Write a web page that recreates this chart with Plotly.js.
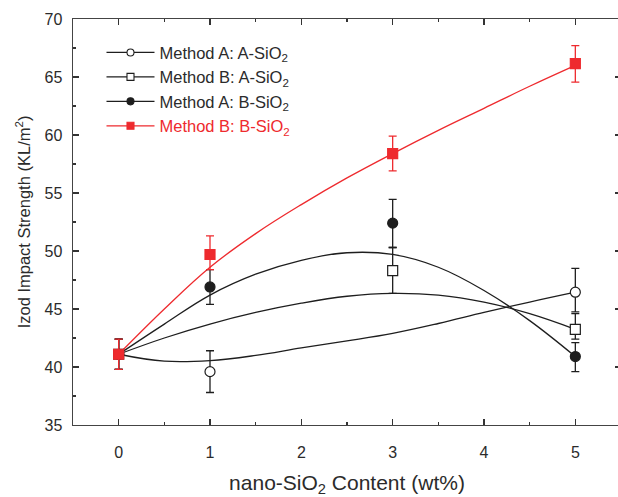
<!DOCTYPE html>
<html>
<head>
<meta charset="utf-8">
<script src="https://cdn.plot.ly/plotly-3.0.1.min.js"></script>
<style>
html,body{margin:0;padding:0;overflow:hidden;background:#fff;}
#chart{width:625px;height:497px;}
</style>
</head>
<body>
<div id="chart"></div>
<script>
// ---- data ----
const seriesNames = ['Method A: A-SiO<sub>2</sub>', 'Method B: A-SiO<sub>2</sub>', 'Method A: B-SiO<sub>2</sub>', 'Method B: B-SiO<sub>2</sub>'];

// measured points (mean, +err, -err)
const aA_x = [0, 1, 5];
const aA_y = [41.1, 39.6, 46.45];
const aA_ep = [1.3, 1.8, 2.05];
const aA_em = [1.3, 1.8, 1.7];

const bA_x = [0, 3, 5];
const bA_y = [41.1, 48.3, 43.25];
const bA_ep = [1.3, 2.0, 1.35];
const bA_em = [1.3, 1.95, 0.85];

const aB_x = [0, 1, 3, 5];
const aB_y = [41.1, 46.9, 52.4, 40.9];
const aB_ep = [1.3, 1.5, 2.05, 1.2];
const aB_em = [1.3, 1.5, 2.1, 1.3];

const bB_x = [0, 1, 3, 5];
const bB_y = [41.1, 49.7, 58.4, 66.15];
const bB_ep = [1.3, 1.6, 1.5, 1.55];
const bB_em = [1.3, 1.3, 1.5, 1.6];

// fitted curves
const curveX   = [0, 0.5, 1, 1.5, 2, 2.5, 3, 3.5, 4, 4.5, 5];
const aA_curve = [41.1, 40.5, 40.55, 41.0, 41.65, 42.25, 42.9, 43.75, 44.7, 45.6, 46.45];
const bA_curve = [41.1, 42.5, 43.7, 44.7, 45.5, 46.1, 46.35, 46.2, 45.6, 44.6, 43.25];
const aB_curve = [41.1, 43.7, 46.2, 48.0, 49.2, 49.85, 49.7, 48.6, 46.6, 44.0, 40.9];
const bB_curve = [41.1, 45.0, 48.6, 51.5, 54.0, 56.3, 58.4, 60.4, 62.3, 64.2, 66.0];

const xTicks = [0, 1, 2, 3, 4, 5];
const yTicks = [35, 40, 45, 50, 55, 60, 65, 70];

// ---- styles ----
const BLK = '#1e1e1e';
const RED = '#ee2a2e';
const TXT = '#2b2b2b';
const FONT = 'Arial, "Liberation Sans", sans-serif';

function curve(x, y, color) {
  return {x: x, y: y, type: 'scatter', mode: 'lines', line: {color: color, width: 1.3, shape: 'spline', smoothing: 1.1},
          showlegend: false, hoverinfo: 'skip'};
}
function pts(x, y, ep, em, symbol, fill, color) {
  return {x: x, y: y, type: 'scatter', mode: 'markers', showlegend: false,
          marker: {symbol: symbol, size: 10, color: fill, line: {color: color, width: 1.2}},
          error_y: {type: 'data', symmetric: false, array: ep, arrayminus: em, color: color, thickness: 1.3, width: 4}};
}
function leg(name, symbol, fill, color, textColor) {
  return {x: [null], y: [null], type: 'scatter', mode: 'lines+markers', name: '<span style="color:' + textColor + '">' + name + '</span>',
          line: {color: color, width: 1.3}, marker: {symbol: symbol, size: 7, color: fill, line: {color: color, width: 1.1}}};
}

const traces = [
  curve(curveX, aA_curve, BLK),
  curve(curveX, bA_curve, BLK),
  curve(curveX, aB_curve, BLK),
  curve(curveX, bB_curve, RED),
  pts(aA_x, aA_y, aA_ep, aA_em, 'circle', '#ffffff', BLK),
  pts(bA_x, bA_y, bA_ep, bA_em, 'square', '#ffffff', BLK),
  pts(aB_x, aB_y, aB_ep, aB_em, 'circle', BLK, BLK),
  pts(bB_x, bB_y, bB_ep, bB_em, 'square', RED, RED),
  leg(seriesNames[0], 'circle', '#ffffff', BLK, TXT),
  leg(seriesNames[1], 'square', '#ffffff', BLK, TXT),
  leg(seriesNames[2], 'circle', BLK, BLK, TXT),
  leg(seriesNames[3], 'square', RED, RED, RED)
];

const axisCommon = {
  showline: true, linecolor: '#444', linewidth: 1.4, mirror: 'ticks',
  ticks: 'inside', ticklen: 6, tickwidth: 1.4, tickcolor: '#333',
  showgrid: false, zeroline: false,
  tickfont: {family: FONT, size: 16, color: TXT}
};

const layout = {
  width: 625, height: 497,
  margin: {l: 73, r: 4, t: 19, b: 72},
  paper_bgcolor: '#fff', plot_bgcolor: '#fff',
  font: {family: FONT, color: TXT},
  xaxis: Object.assign({}, axisCommon, {
    range: [-0.5, 5.5], tickvals: xTicks, ticktext: xTicks.map(String),
    minor: {dtick: 0.5, ticks: 'inside', ticklen: 3, tickwidth: 1.2, tickcolor: '#333'},
    ticklabelstandoff: 12,
    title: {text: 'nano-SiO<sub>2</sub> Content (wt%)', font: {family: FONT, size: 21, color: TXT}, standoff: 23}
  }),
  yaxis: Object.assign({}, axisCommon, {
    range: [35, 70], tickvals: yTicks, ticktext: yTicks.map(String),
    minor: {dtick: 2.5, ticks: 'inside', ticklen: 3, tickwidth: 1.2, tickcolor: '#333'},
    ticklabelstandoff: 6,
    title: {text: 'Izod Impact Strength (KL/m<sup>2</sup>)', font: {family: FONT, size: 16.5, color: TXT}, standoff: 10}
  }),
  legend: {x: 0.052, y: 0.96, xanchor: 'left', yanchor: 'top', bgcolor: 'rgba(0,0,0,0)', borderwidth: 0,
           itemwidth: 48,
           font: {family: FONT, size: 16.5, color: TXT}, tracegroupgap: 0},
  showlegend: true
};

Plotly.newPlot('chart', traces, layout, {staticPlot: true, displayModeBar: false});
</script>
</body>
</html>
